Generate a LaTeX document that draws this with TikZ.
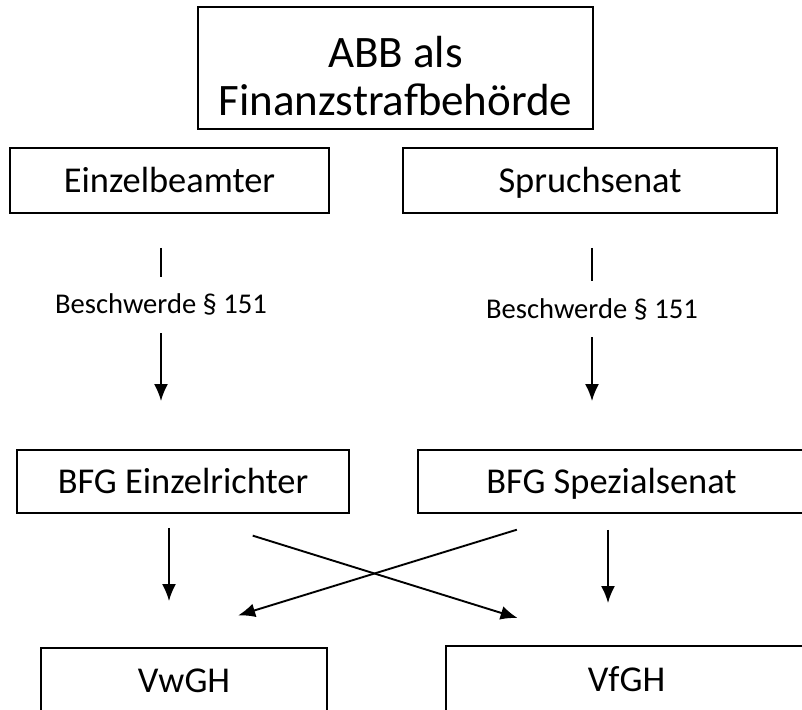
\documentclass[tikz,border=0pt]{standalone}
\usepackage{fontspec}
\setmainfont{Carlito}
\usetikzlibrary{shapes,arrows,arrows.meta}
\tikzstyle{block} = [rectangle, draw, line width=1.9pt, text centered, inner sep=0pt, minimum height=65pt, text height=23pt, text depth=0pt, font=\fontsize{36.4}{44}\selectfont]
\tikzstyle{head} = [rectangle, draw, line width=1.9pt, align=center, inner sep=0pt, minimum width=395pt, minimum height=122pt, font=\fontsize{45}{48}\selectfont]
\tikzstyle{note} = [inner sep=0pt, text height=18.1pt, text depth=0pt, font=\fontsize{28.6}{34}\selectfont]
\tikzstyle{stem} = [draw, line width=1.9pt]
\tikzstyle{line} = [draw, line width=1.9pt, -{Latex[length=17pt,width=14pt]}]

\begin{document}
\begin{tikzpicture}[x=1pt, y=1pt]
	\useasboundingbox (0,0) rectangle (802,-709);
	\clip (0,0) rectangle (802,-709);
	\node [head] (abb) at (395.5,-68) {\rule{0pt}{47pt}ABB als\\Finanzstrafbehörde};
	\node [block, minimum width=319pt] (einzelbeamter) at (169.5,-180.5) {Einzelbeamter};
	\node [block, minimum width=374pt] (spruchsenat) at (590,-180.5) {Spruchsenat};
	\node [note] (besch1) at (161,-304.9) {Beschwerde § 151};
	\node [note] (besch2) at (592,-309.9) {Beschwerde § 151};
	\node [block, minimum width=332pt, minimum height=63pt] (einzelrichter) at (183,-481.5) {BFG Einzelrichter};
	\node [block, minimum width=387pt, minimum height=63pt] (spezialsenat) at (611.5,-481.5) {BFG Spezialsenat};
	\node [block, minimum width=286pt, minimum height=66pt] (vwgh) at (184,-681) {VwGH};
	\node [block, minimum width=361pt, minimum height=68pt] (vfgh) at (626.5,-680) {VfGH};
	\path [stem, shorten <=34pt, shorten >=18.6pt] (einzelbeamter.south -| besch1) -- (besch1.north);
	\path [line, shorten <=19pt, shorten >=48pt] (besch1.south) -- (einzelrichter.north -| besch1);
	\path [stem, shorten <=34pt, shorten >=19.6pt] (spruchsenat.south -| besch2) -- (besch2.north);
	\path [line, shorten <=18pt, shorten >=48pt] (besch2.south) -- (spezialsenat.north -| besch2);
	\path [line, shorten <=14pt, shorten >=46pt] ([xshift=-14pt]einzelrichter.south) -- ([xshift=-15pt]vwgh.north);
	\path [line, shorten <=16pt, shorten >=42pt] ([xshift=-3.5pt]spezialsenat.south) -- ([xshift=-18.5pt]vfgh.north);
	\path [line, shorten <=73pt, shorten >=91pt] (einzelrichter.south) -- ([xshift=-22pt]vfgh.north);
	\path [line, shorten <=53.5pt, shorten >=107.5pt] ([xshift=-43.5pt]spezialsenat.south) -- ([xshift=-48.6pt]vwgh.north);
\end{tikzpicture}
\end{document}
